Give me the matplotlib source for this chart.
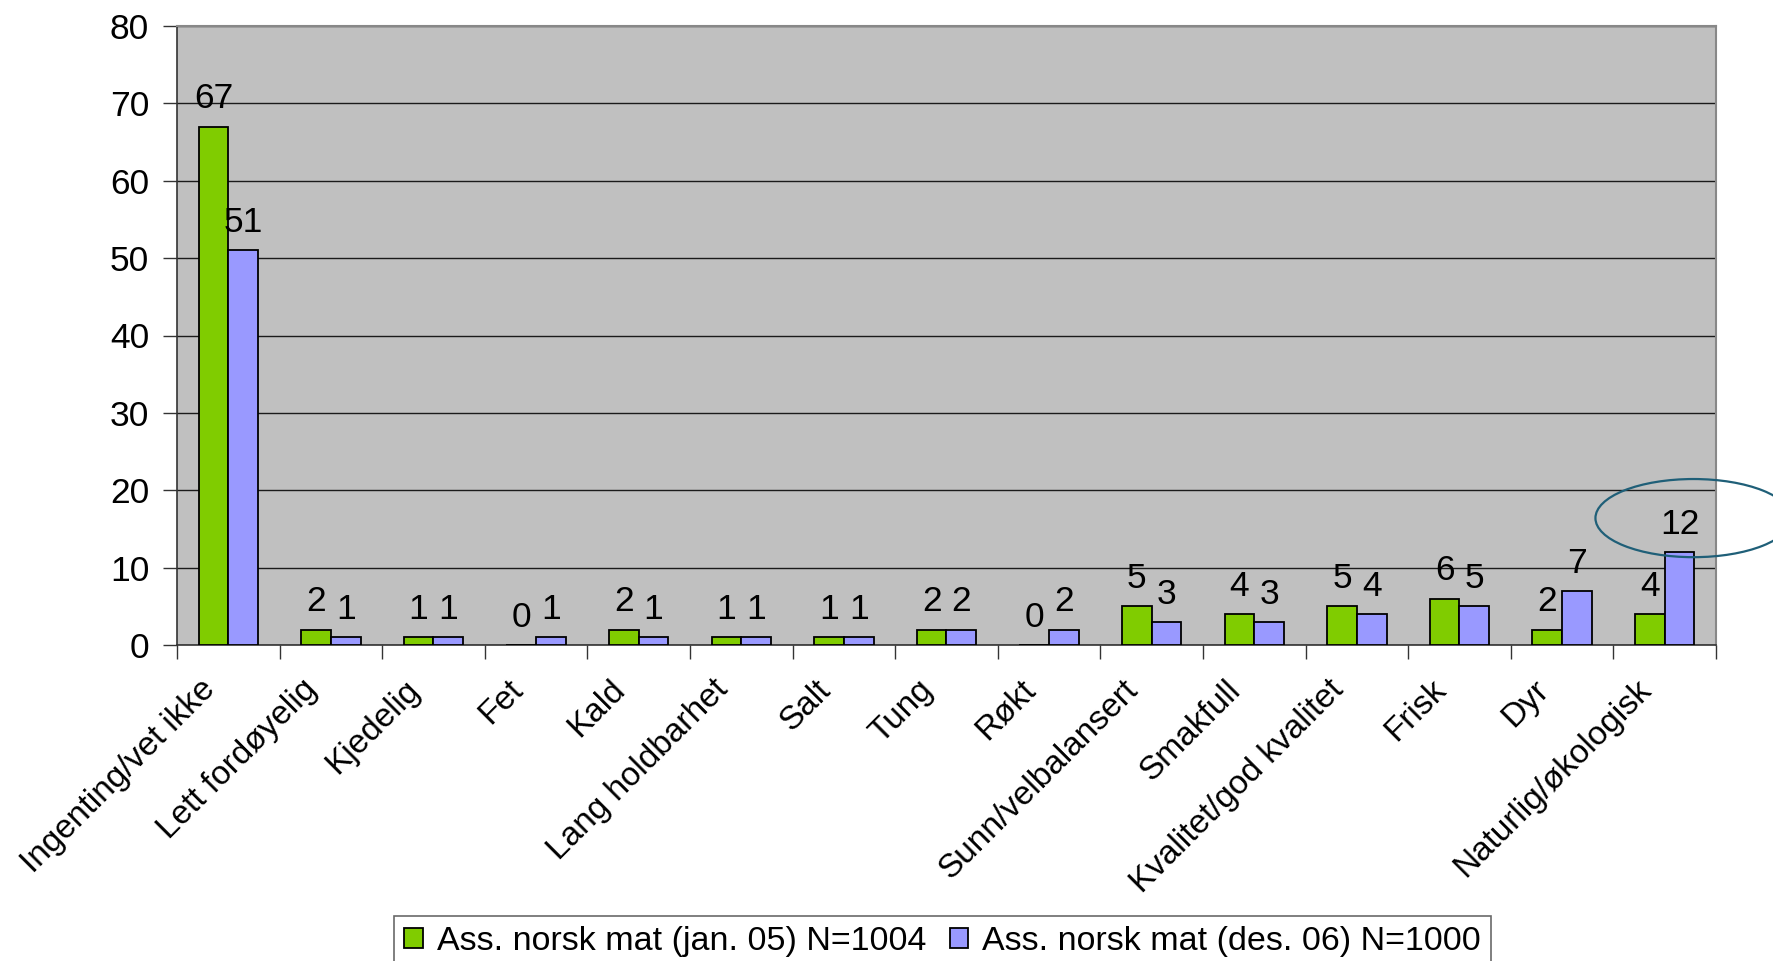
import numpy as np
import matplotlib
matplotlib.use("Agg")
import matplotlib.pyplot as plt
from matplotlib.patches import Ellipse
from matplotlib.transforms import ScaledTranslation

plt.rcParams["font.family"] = ["Liberation Sans", "DejaVu Sans"]

categories = ["Ingenting/vet ikke", "Lett fordøyelig", "Kjedelig", "Fet", "Kald",
              "Lang holdbarhet", "Salt", "Tung", "Røkt", "Sunn/velbalansert",
              "Smakfull", "Kvalitet/god kvalitet", "Frisk", "Dyr",
              "Naturlig/økologisk"]
jan05 = [67, 2, 1, 0, 2, 1, 1, 2, 0, 5, 4, 5, 6, 2, 4]
des06 = [51, 1, 1, 1, 1, 1, 1, 2, 2, 3, 3, 4, 5, 7, 12]
series_names = ["Ass. norsk mat (jan. 05) N=1004", "Ass. norsk mat (des. 06) N=1000"]
yticks = [0, 10, 20, 30, 40, 50, 60, 70, 80]

GREEN = "#80cc00"
PURPLE = "#9999ff"
FS = 24      # category names
FS_NUM = 25.5  # axis numbers and bar values

fig = plt.figure(figsize=(17.74, 9.61), dpi=100)
ax = fig.add_axes([177 / 1774, 1 - 645 / 961, (1716 - 177) / 1774, (645 - 26) / 961])
ax.set_facecolor("#c0c0c0")

x = np.arange(len(categories))
w = 0.29
b1 = ax.bar(x - w / 2, jan05, w, color=GREEN, edgecolor="black", linewidth=1.3,
            label=series_names[0], zorder=3)
b2 = ax.bar(x + w / 2, des06, w, color=PURPLE, edgecolor="black", linewidth=1.3,
            label=series_names[1], zorder=3)

# value labels over each bar
for bars, vals in ((b1, jan05), (b2, des06)):
    for rect, v in zip(bars, vals):
        ax.annotate(f"{v}", (rect.get_x() + rect.get_width() / 2, v),
                    xytext=(0, 8), textcoords="offset points",
                    ha="center", va="bottom", fontsize=FS_NUM, zorder=4)

ax.set_xlim(-0.5, len(categories) - 0.5)
ax.set_ylim(0, 80)
ax.set_yticks(yticks)
ax.set_yticklabels([str(t) for t in yticks], fontsize=FS_NUM)
ax.yaxis.grid(True, color="#1a1a1a", linewidth=1.0, zorder=1)
ax.set_axisbelow(True)

# category boundaries as tick marks, names rotated under the centres
ax.set_xticks(np.arange(-0.5, len(categories)))
ax.set_xticklabels([])
ax.set_xticks(x, minor=True)
ax.set_xticklabels(categories, minor=True, rotation=45, ha="right",
                   rotation_mode="anchor", fontsize=FS)
ax.tick_params(axis="x", which="minor", length=0, pad=21)
ax.tick_params(axis="x", which="major", length=10, width=1, color="#333333")
ax.tick_params(axis="y", length=10, width=1, color="#333333", pad=10)
shift = ScaledTranslation(-21 / 72, 0, fig.dpi_scale_trans)
for lab in ax.get_xticklabels(minor=True):
    lab.set_transform(lab.get_transform() + shift)

for side in ("top", "right"):
    ax.spines[side].set_color("#888888")
    ax.spines[side].set_linewidth(1.5)
for side in ("left", "bottom"):
    ax.spines[side].set_color("#333333")
    ax.spines[side].set_linewidth(1.2)

# highlight around the last category's value
ell = Ellipse((14.28, 16.4), 1.91, 10.1, fill=False, edgecolor="#1f5f78",
              linewidth=1.6, clip_on=False, zorder=5)
ax.add_patch(ell)

leg = fig.legend(loc="upper left", bbox_to_anchor=(394 / 1774, 1 - 916 / 961),
                 ncol=2, prop={"size": 24.5}, frameon=True, fancybox=False,
                 handlelength=0.55, handleheight=0.55, handletextpad=0.4,
                 columnspacing=0.7, borderpad=0.3, borderaxespad=0)
leg.get_frame().set_edgecolor("#444444")
leg.get_frame().set_linewidth(1.2)

fig.savefig("out.png", dpi=100)
